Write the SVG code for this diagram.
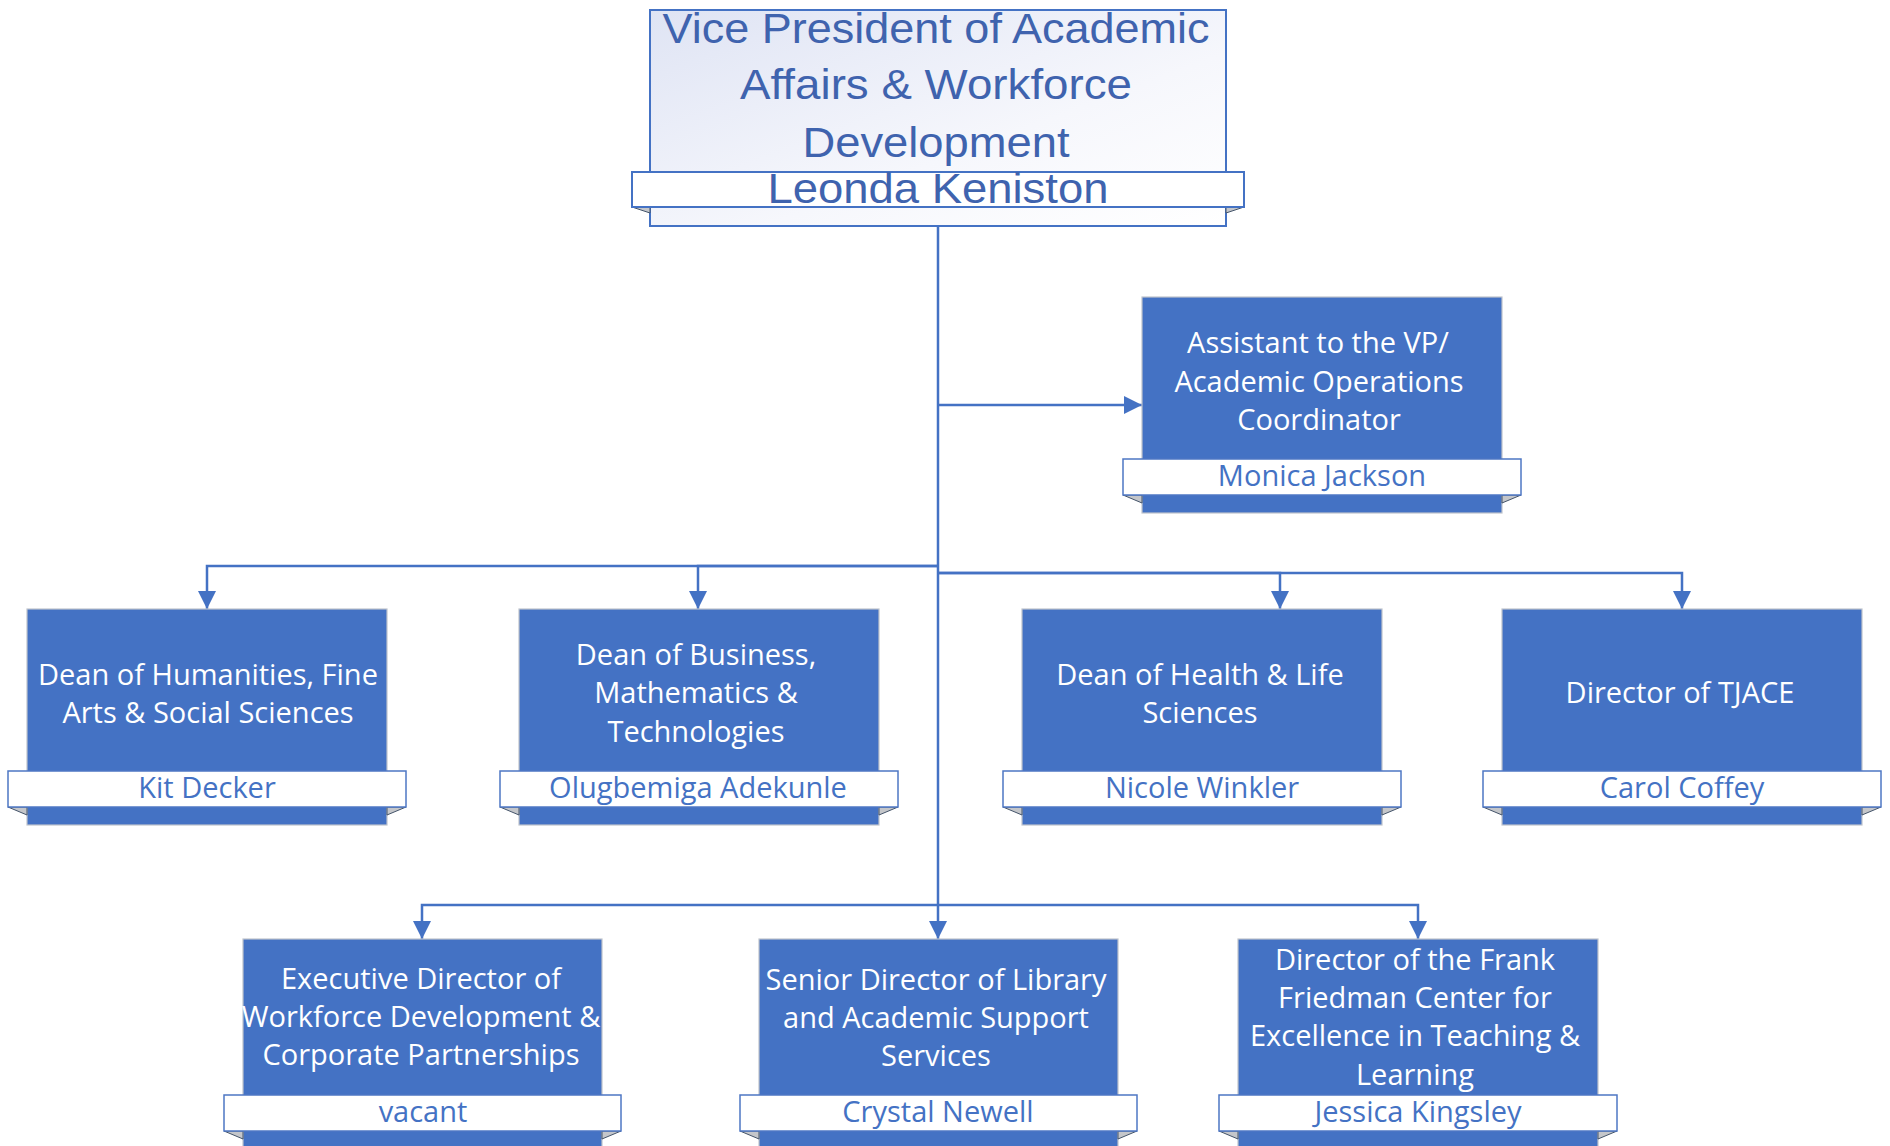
<svg xmlns="http://www.w3.org/2000/svg" width="1890" height="1146" viewBox="0 0 1890 1146">
<defs>
<linearGradient id="vpg" x1="0" y1="0" x2="1" y2="1">
<stop offset="0" stop-color="#DFE4F4"/>
<stop offset="0.6" stop-color="#F6F7FC"/>
<stop offset="1" stop-color="#FFFFFF"/>
</linearGradient>
<marker id="arr" viewBox="0 0 18 18" refX="18" refY="9" markerWidth="18" markerHeight="18" markerUnits="userSpaceOnUse" orient="auto">
<path d="M0,0 L18,9 L0,18 z" fill="#4472C4"/>
</marker>
<style>
.box{fill:#4472C4;stroke:#BFC4CC;stroke-width:1.2}
.ban{fill:#FFFFFF;stroke:#4E77C4;stroke-width:1.5}
.fold{fill:#C4C6CA;stroke:#44546A;stroke-width:1}
.t{font-family:"Open Sans","Liberation Sans",sans-serif;font-size:29px;fill:#FFFFFF;text-anchor:middle}
.n{font-family:"Open Sans","Liberation Sans",sans-serif;font-size:29px;fill:#4472C4;text-anchor:middle}
.vp{font-family:"Liberation Sans",Arial,sans-serif;font-size:42px;fill:#3F63AE;text-anchor:middle}
.c{fill:none;stroke:#4472C4;stroke-width:2.5}
</style>
</defs>
<rect width="1890" height="1146" fill="#FFFFFF"/>

<g id="connectors">
<path class="c" d="M938,226 V939" marker-end="url(#arr)"/>
<path class="c" d="M938,405 H1142" marker-end="url(#arr)"/>
<path class="c" d="M938,566 H207 V609" marker-end="url(#arr)"/>
<path class="c" d="M938,566 H698 V609" marker-end="url(#arr)"/>
<path class="c" d="M938,573 H1280 V609" marker-end="url(#arr)"/>
<path class="c" d="M938,573 H1682 V609" marker-end="url(#arr)"/>
<path class="c" d="M938,905 H422 V939" marker-end="url(#arr)"/>
<path class="c" d="M938,905 H1418 V939" marker-end="url(#arr)"/>
</g>

<g id="vp">
<rect x="650" y="10" width="576" height="216" fill="url(#vpg)" stroke="#4472C4" stroke-width="2"/>
<polygon class="fold" points="632,207 650,207 650,213"/>
<polygon class="fold" points="1244,207 1226,207 1226,213"/>
<rect x="632" y="172" width="612" height="35" fill="#FFFFFF" stroke="#4472C4" stroke-width="2"/>
<text class="vp" x="936" y="43" textLength="547" lengthAdjust="spacingAndGlyphs">Vice President of Academic</text>
<text class="vp" x="936" y="99" textLength="392" lengthAdjust="spacingAndGlyphs">Affairs &amp; Workforce</text>
<text class="vp" x="936" y="157" textLength="267" lengthAdjust="spacingAndGlyphs">Development</text>
<text class="vp" x="938" y="203" font-size="39" textLength="341" lengthAdjust="spacingAndGlyphs">Leonda Keniston</text>
</g>

<g id="assistant">
<rect class="box" x="1142" y="297" width="360" height="216"/>
<polygon class="fold" points="1123,495 1142,495 1142,503"/>
<polygon class="fold" points="1521,495 1502,495 1502,503"/>
<rect class="ban" x="1123" y="459" width="398" height="36"/>
<text class="t" x="1318" y="353">Assistant to the VP/</text>
<text class="t" x="1319" y="392">Academic Operations</text>
<text class="t" x="1319" y="430">Coordinator</text>
<text class="n" x="1322" y="486">Monica Jackson</text>
</g>

<g id="dean-humanities">
<rect class="box" x="27" y="609" width="360" height="216"/>
<polygon class="fold" points="8,807 27,807 27,815"/>
<polygon class="fold" points="406,807 387,807 387,815"/>
<rect class="ban" x="8" y="771" width="398" height="36"/>
<text class="t" x="208" y="685">Dean of Humanities, Fine</text>
<text class="t" x="208" y="723">Arts &amp; Social Sciences</text>
<text class="n" x="207" y="798">Kit Decker</text>
</g>

<g id="dean-business">
<rect class="box" x="519" y="609" width="360" height="216"/>
<polygon class="fold" points="500,807 519,807 519,815"/>
<polygon class="fold" points="898,807 879,807 879,815"/>
<rect class="ban" x="500" y="771" width="398" height="36"/>
<text class="t" x="696" y="665">Dean of Business,</text>
<text class="t" x="696" y="703">Mathematics &amp;</text>
<text class="t" x="696" y="742">Technologies</text>
<text class="n" x="698" y="798">Olugbemiga Adekunle</text>
</g>

<g id="dean-health">
<rect class="box" x="1022" y="609" width="360" height="216"/>
<polygon class="fold" points="1003,807 1022,807 1022,815"/>
<polygon class="fold" points="1401,807 1382,807 1382,815"/>
<rect class="ban" x="1003" y="771" width="398" height="36"/>
<text class="t" x="1200" y="685">Dean of Health &amp; Life</text>
<text class="t" x="1200" y="723">Sciences</text>
<text class="n" x="1202" y="798">Nicole Winkler</text>
</g>

<g id="director-tjace">
<rect class="box" x="1502" y="609" width="360" height="216"/>
<polygon class="fold" points="1483,807 1502,807 1502,815"/>
<polygon class="fold" points="1881,807 1862,807 1862,815"/>
<rect class="ban" x="1483" y="771" width="398" height="36"/>
<text class="t" x="1680" y="703">Director of TJACE</text>
<text class="n" x="1682" y="798">Carol Coffey</text>
</g>

<g id="exec-workforce">
<rect class="box" x="243" y="939" width="359" height="216"/>
<polygon class="fold" points="224,1131 243,1131 243,1139"/>
<polygon class="fold" points="621,1131 602,1131 602,1139"/>
<rect class="ban" x="224" y="1095" width="397" height="36"/>
<text class="t" x="421" y="989">Executive Director of</text>
<text class="t" x="421" y="1027">Workforce Development &amp;</text>
<text class="t" x="421" y="1065">Corporate Partnerships</text>
<text class="n" x="423" y="1122">vacant</text>
</g>

<g id="senior-library">
<rect class="box" x="759" y="939" width="359" height="216"/>
<polygon class="fold" points="740,1131 759,1131 759,1139"/>
<polygon class="fold" points="1137,1131 1118,1131 1118,1139"/>
<rect class="ban" x="740" y="1095" width="397" height="36"/>
<text class="t" x="936" y="990">Senior Director of Library</text>
<text class="t" x="936" y="1028">and Academic Support</text>
<text class="t" x="936" y="1066">Services</text>
<text class="n" x="938" y="1122">Crystal Newell</text>
</g>

<g id="director-friedman">
<rect class="box" x="1238" y="939" width="360" height="216"/>
<polygon class="fold" points="1219,1131 1238,1131 1238,1139"/>
<polygon class="fold" points="1617,1131 1598,1131 1598,1139"/>
<rect class="ban" x="1219" y="1095" width="398" height="36"/>
<text class="t" x="1415" y="970">Director of the Frank</text>
<text class="t" x="1415" y="1008">Friedman Center for</text>
<text class="t" x="1415" y="1046">Excellence in Teaching &amp;</text>
<text class="t" x="1415" y="1085">Learning</text>
<text class="n" x="1418" y="1122">Jessica Kingsley</text>
</g>
</svg>
